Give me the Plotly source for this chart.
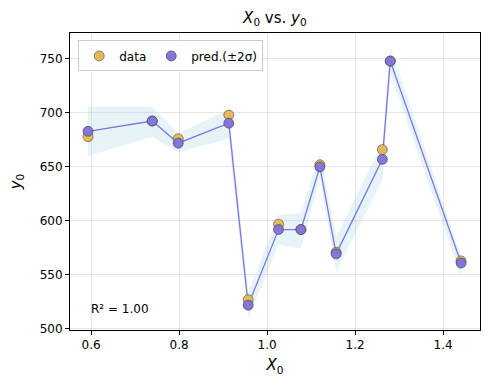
import plotly.graph_objects as go

x_vals = [0.593, 0.739, 0.798, 0.913, 0.957, 1.026, 1.077, 1.120, 1.157, 1.262, 1.280, 1.441]
y_data = [678, 692.5, 676, 698, 527, 597, 592, 652, 571, 666, 748, 563]
y_pred = [683, 692.5, 672, 690.5, 522, 592, 592, 650, 569.5, 657, 748, 561]
band_upper = [706, 706, 681, 703, 534, 605.5, 607.5, 662.5, 585, 672, 761, 567]
band_lower = [660, 678, 663.5, 676, 510, 578, 574.5, 640, 553, 638, 737, 548]

FONT = "DejaVu Sans"
fig = go.Figure()

fig.add_trace(go.Scatter(x=x_vals + x_vals[::-1], y=band_upper + band_lower[::-1],
                         fill="toself", fillcolor="rgba(173,216,230,0.3)",
                         line=dict(width=0), mode="lines", hoverinfo="skip", showlegend=False))
fig.add_trace(go.Scatter(x=x_vals, y=y_pred, mode="lines",
                         line=dict(color="#7b78e0", width=1.3), showlegend=False))
fig.add_trace(go.Scatter(x=x_vals, y=y_data, mode="markers", name="data",
                         marker=dict(color="#e6b95a", size=10,
                                     line=dict(color="#4a4a4a", width=0.6))))
fig.add_trace(go.Scatter(x=x_vals, y=y_pred, mode="markers", name="pred.(±2σ)",
                         marker=dict(color="#8476d9", size=10,
                                     line=dict(color="#3a3a3a", width=0.6))))

fig.add_annotation(x=0.595, y=518, xref="x", yref="y", text="R² = 1.00",
                   showarrow=False, xanchor="left", yanchor="middle",
                   font=dict(family=FONT, size=12, color="black"))

axis_common = dict(showline=True, linecolor="black", linewidth=1, mirror=True,
                   ticks="outside", ticklen=4, tickcolor="black",
                   showgrid=True, gridcolor="rgba(0,0,0,0.1)", zeroline=False,
                   tickfont=dict(family=FONT, size=12, color="black"))

fig.update_layout(
    width=490, height=390,
    margin=dict(l=70, r=10, t=33, b=60),
    paper_bgcolor="white", plot_bgcolor="white",
    font=dict(family=FONT, color="black"),
    title=dict(text="<i>X</i><sub>0</sub> vs. <i>y</i><sub>0</sub>",
               x=0.561, xanchor="center", y=0.955, yanchor="middle",
               font=dict(family=FONT, size=15)),
    xaxis=dict(range=[0.552, 1.484], tickvals=[0.6, 0.8, 1.0, 1.2, 1.4],
               ticktext=["0.6", "0.8", "1.0", "1.2", "1.4"],
               title=dict(text="<i>X</i><sub>0</sub>", font=dict(family=FONT, size=15), standoff=8),
               **axis_common),
    yaxis=dict(range=[499, 774], tickvals=[500, 550, 600, 650, 700, 750],
               title=dict(text="<i>y</i><sub>0</sub>", font=dict(family=FONT, size=15), standoff=14),
               **axis_common),
    legend=dict(x=0.02, y=0.975, xanchor="left", yanchor="top", orientation="h",
                bgcolor="rgba(255,255,255,0.8)", bordercolor="#cccccc", borderwidth=1,
                font=dict(family=FONT, size=12), itemwidth=30),
)

fig.write_html("out.html", config={"displayModeBar": False},
               post_script="document.body.style.margin='0';document.body.style.overflow='hidden';")
